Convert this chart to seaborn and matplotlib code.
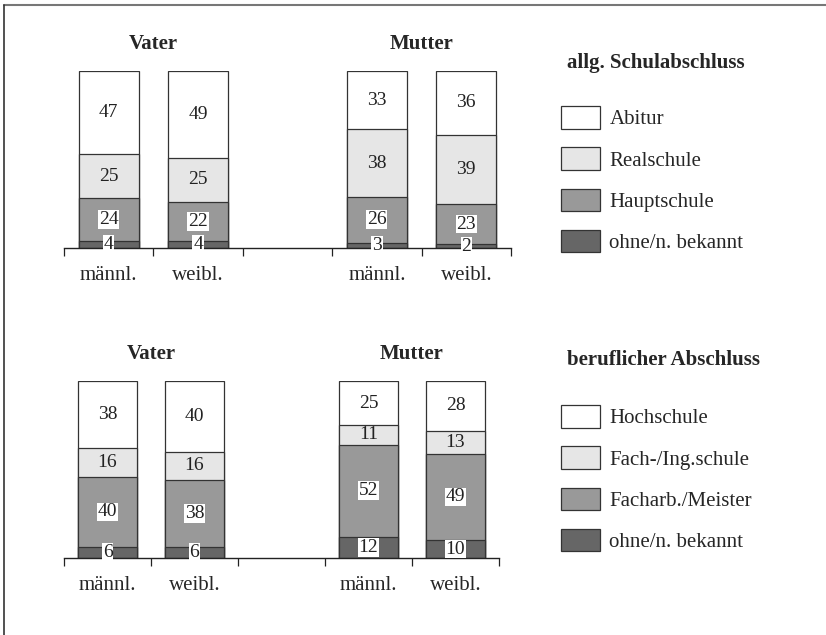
import numpy as np
import pandas as pd
import matplotlib
matplotlib.use("Agg")
import matplotlib.pyplot as plt
import seaborn as sns
from matplotlib.patches import Patch
from matplotlib.lines import Line2D

# bars: Vater männl., Vater weibl., Mutter männl., Mutter weibl.
parents = ["Vater", "Mutter"]
sexes = ["männl.", "weibl."]

# allg. Schulabschluss (top to bottom of each bar)
schul_labels = ["Abitur", "Realschule", "Hauptschule", "ohne/n. bekannt"]
abitur = [47, 49, 33, 36]
realschule = [25, 25, 38, 39]
hauptschule = [24, 22, 26, 23]
ohne_schule = [4, 4, 3, 2]

# beruflicher Abschluss
beruf_labels = ["Hochschule", "Fach-/Ing.schule", "Facharb./Meister", "ohne/n. bekannt"]
hochschule = [38, 40, 25, 28]
fachschule = [16, 16, 11, 13]
facharbeiter = [40, 38, 52, 49]
ohne_beruf = [6, 6, 12, 10]

colors = ["#ffffff", "#e6e6e6", "#999999", "#666666"]
edge = "#333333"

W, H = 826, 635
sns.set_style("white")
plt.rcParams["font.family"] = ["Liberation Serif", "DejaVu Serif"]

fig = plt.figure(figsize=(W / 100, H / 100), dpi=100)


def px_box(left, right, base, top):
    return [left / W, 1 - base / H, (right - left) / W, (base - top) / H]


def draw_panel(ax, layers, width):
    keys = [f"{p}_{s}" for p in parents for s in sexes]
    order = keys[:2] + ["gap"] + keys[2:]
    pos = [0, 1, 3, 4]
    bottom_up = layers[::-1]
    tops = np.cumsum(bottom_up, axis=0)
    cols = colors[::-1]
    # draw tallest stack first, smaller cumulative bars on top
    for k in range(len(bottom_up) - 1, -1, -1):
        df = pd.DataFrame({"bar": keys, "val": tops[k]})
        sns.barplot(data=df, x="bar", y="val", order=order, color=cols[k],
                    saturation=1, width=width, edgecolor=edge, linewidth=0.9,
                    errorbar=None, ax=ax)
    for k in range(len(bottom_up)):
        for j, x in enumerate(pos):
            v = bottom_up[k][j]
            y = tops[k][j] - v / 2
            kw = {}
            if k <= 1:
                kw["bbox"] = dict(facecolor="white", edgecolor="none", pad=0.5)
            ax.text(x, y, str(v), ha="center", va="center", fontsize=14,
                    color="#222222", **kw)
    ax.set_xlim(-0.5, 4.5)
    ax.set_ylim(0, 100)
    ax.set_xlabel("")
    ax.set_ylabel("")
    ax.set_yticks([])
    for s in ["top", "right", "left"]:
        ax.spines[s].set_visible(False)
    ax.spines["bottom"].set_color("#222222")
    ax.spines["bottom"].set_linewidth(1.0)
    ax.set_xticks(pos)
    ax.set_xticklabels(sexes * 2, fontsize=15)
    ax.tick_params(axis="x", which="major", bottom=True, length=0, pad=13)
    ax.set_xticks(np.arange(-0.5, 5, 1), minor=True)
    ax.tick_params(axis="x", which="minor", bottom=True, length=6, width=0.9,
                   color="#222222", direction="out")
    ax.set_facecolor("none")
    for x, name in zip([0.5, 3.5], parents):
        ax.text(x, 115, name, ha="center", va="center", fontsize=15,
                fontweight="bold", clip_on=False)


ax1 = fig.add_axes(px_box(64, 511, 248, 71))
draw_panel(ax1, [abitur, realschule, hauptschule, ohne_schule], 0.67)

ax2 = fig.add_axes(px_box(64, 499, 558, 381))
draw_panel(ax2, [hochschule, fachschule, facharbeiter, ohne_beruf], 0.667)


def add_legend(title, labels, title_y, first_top):
    fig.text(567 / W, 1 - title_y / H, title, fontsize=15, fontweight="bold",
             ha="left", va="center")
    handles = [Patch(facecolor=c, edgecolor=edge, linewidth=0.9) for c in colors]
    fig.legend(handles, labels, loc="upper left",
               bbox_to_anchor=(561 / W, 1 - first_top / H),
               frameon=False, fontsize=15, borderpad=0, borderaxespad=0,
               handlelength=1.87, handleheight=1.3, handletextpad=0.45,
               labelspacing=0.86)


add_legend("allg. Schulabschluss", schul_labels, 63, 106)
add_legend("beruflicher Abschluss", beruf_labels, 360, 405)

# outer frame (top and left edge only)
fig.add_artist(Line2D([4 / W, 1], [1 - 5 / H, 1 - 5 / H], color="#777777", lw=1.5))
fig.add_artist(Line2D([4 / W, 4 / W], [0, 1 - 5 / H], color="#333333", lw=1.2))

fig.savefig("out.png", dpi=100)
